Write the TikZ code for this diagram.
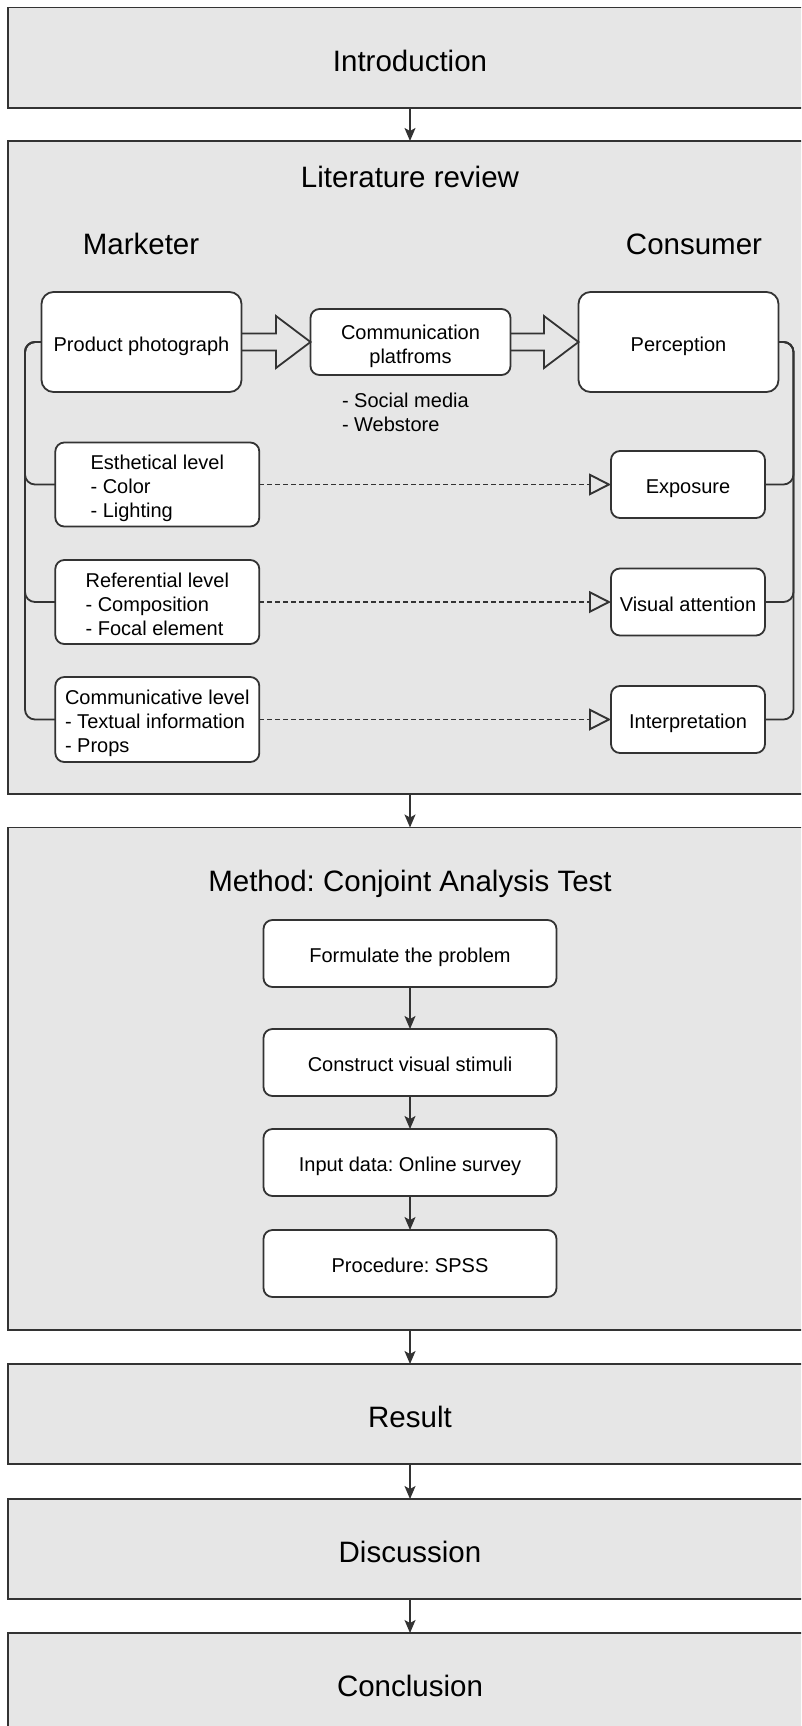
\documentclass[tikz,border=0pt]{standalone}
\usepackage{fontspec}
\setmainfont{Liberation Sans}
\usetikzlibrary{arrows.meta,calc}
\definecolor{boxgray}{HTML}{E6E6E6}
\definecolor{linecol}{HTML}{333333}
\newcommand{\lineb}[1]{\raisebox{0pt}[0.9em][0pt]{#1}}
\frenchspacing
\begin{document}
\begin{tikzpicture}[x=1pt,y=-1pt,
  section/.style={draw=linecol, line width=1.8pt, fill=boxgray, minimum width=804pt, inner sep=0pt, outer sep=0pt, font=\fontsize{29.5}{35}\selectfont},
  title/.style={inner sep=0pt, outer sep=0pt, font=\fontsize{29.5}{35}\selectfont},
  inbox/.style={draw=linecol, line width=1.8pt, fill=white, rounded corners=9pt, inner sep=0pt, outer sep=0pt, font=\fontsize{20}{24}\selectfont, align=center},
  bigbox/.style={inbox, rounded corners=12pt},
  plaintext/.style={inner sep=0pt, outer sep=0pt, font=\fontsize{20}{24}\selectfont},
  arr/.style={draw=linecol, line width=1.6pt, -{Stealth[length=13pt,width=11pt,inset=3pt]}},
  dasharr/.style={draw=linecol, line width=1.9pt, dash pattern=on 4.5pt off 3.5pt, -{Triangle[open,length=22pt,width=22pt]}},
  blockarr/.style={draw=linecol, line width=1.8pt, line join=miter},
  bracket/.style={draw=linecol, line width=1.8pt, rounded corners=10pt}
]
\useasboundingbox (0,0) rectangle (801,1726);
\clip (0,0) rectangle (801,1726);
\fill[white] (0,0) rectangle (801,1726);

% sections
\node[section, minimum height=100.5pt] (intro) at (410,57.75) {\lineb{Introduction}};
\node[section, minimum height=653pt] (lit) at (410,467.5) {};
\node[section, minimum height=502.5pt] (method) at (410,1078.75) {};
\node[section, minimum height=100pt] (result) at (410,1414) {\lineb{Result}};
\node[section, minimum height=100pt] (disc) at (410,1549) {\lineb{Discussion}};
\node[section, minimum height=100pt] (concl) at (410,1683) {\lineb{Conclusion}};

% literature review content
\node[title, anchor=base] (littitle) at (410,187.3) {Literature review};
\node[title, anchor=base] (mark) at (141,254) {Marketer};
\node[title, anchor=base] (cons) at (694,254) {Consumer};

\node[bigbox, minimum width=200pt, minimum height=100pt] (pp) at (141.5,342) {\lineb{Product photograph}};
\node[inbox, minimum width=200pt, minimum height=66pt] (cp) at (410.5,342) {\lineb{Communication}\\\lineb{platfroms}};
\node[bigbox, minimum width=200pt, minimum height=100pt] (perc) at (678.5,342) {\lineb{Perception}};
\node[plaintext, anchor=north west, align=left] (media) at ($(cp.south)+(-68.5,14)$) {\lineb{- Social media}\\\lineb{- Webstore}};

\node[inbox, align=left, minimum width=204pt, minimum height=84pt] (est) at (157.3,484.5) {\lineb{Esthetical level}\\\lineb{- Color}\\\lineb{- Lighting}};
\node[inbox, align=left, minimum width=204pt, minimum height=84pt] (ref) at (157.3,602) {\lineb{Referential level}\\\lineb{- Composition}\\\lineb{- Focal element}};
\node[inbox, align=left, minimum width=204pt, minimum height=85pt] (com) at (157.3,719.5) {\lineb{Communicative level}\\\lineb{- Textual information}\\\lineb{- Props}};

\node[inbox, minimum width=154pt, minimum height=67pt] (exp) at (688,484.5) {\lineb{Exposure}};
\node[inbox, minimum width=154pt, minimum height=67pt] (va) at (688,602) {\lineb{Visual attention}};
\node[inbox, minimum width=154pt, minimum height=67pt] (intp) at (688,719.5) {\lineb{Interpretation}};

% block arrows
\draw[blockarr] ($(pp.east)+(0,-8.5)$) -- ++(34.5,0) -- ++(0,-17.5) -- (cp.west) -- ++(-34.5,26) -- ++(0,-17.5) -- ($(pp.east)+(0,8.5)$);
\draw[blockarr] ($(cp.east)+(0,-8.5)$) -- ++(33.5,0) -- ++(0,-17.5) -- (perc.west) -- ++(-34.5,26) -- ++(0,-17.5) -- ($(cp.east)+(0,8.5)$);

% brackets
\coordinate (lbar) at (25,342);
\coordinate (rbar) at (793.5,342);
\draw[bracket] (pp.west) -| (lbar |- est.west) -- (est.west);
\draw[bracket] (pp.west) -| (lbar |- ref.west) -- (ref.west);
\draw[bracket] (pp.west) -| (lbar |- com.west) -- (com.west);
\draw[bracket] (perc.east) -| (rbar |- exp.east) -- (exp.east);
\draw[bracket] (perc.east) -| (rbar |- va.east) -- (va.east);
\draw[bracket] (perc.east) -| (rbar |- intp.east) -- (intp.east);

% dashed arrows
\draw[dasharr] (est.east) -- (exp.west);
\draw[dasharr] (ref.east) -- (va.west);
\draw[dasharr] (com.east) -- (intp.west);

% method content
\node[title, anchor=base] (mtitle) at (410,891) {Method: Conjoint Analysis Test};
\node[inbox, minimum width=293pt, minimum height=67pt] (s1) at (410,953.5) {\lineb{Formulate the problem}};
\node[inbox, minimum width=293pt, minimum height=67pt] (s2) at (410,1062.5) {\lineb{Construct visual stimuli}};
\node[inbox, minimum width=293pt, minimum height=67pt] (s3) at (410,1162.5) {\lineb{Input data: Online survey}};
\node[inbox, minimum width=293pt, minimum height=67pt] (s4) at (410,1263.5) {\lineb{Procedure: SPSS}};

% flow arrows
\draw[arr] (intro.south) -- (lit.north);
\draw[arr] (lit.south) -- (method.north);
\draw[arr] (s1.south) -- (s2.north);
\draw[arr] (s2.south) -- (s3.north);
\draw[arr] (s3.south) -- (s4.north);
\draw[arr] (method.south) -- (result.north);
\draw[arr] (result.south) -- (disc.north);
\draw[arr] (disc.south) -- (concl.north);
\end{tikzpicture}
\end{document}
